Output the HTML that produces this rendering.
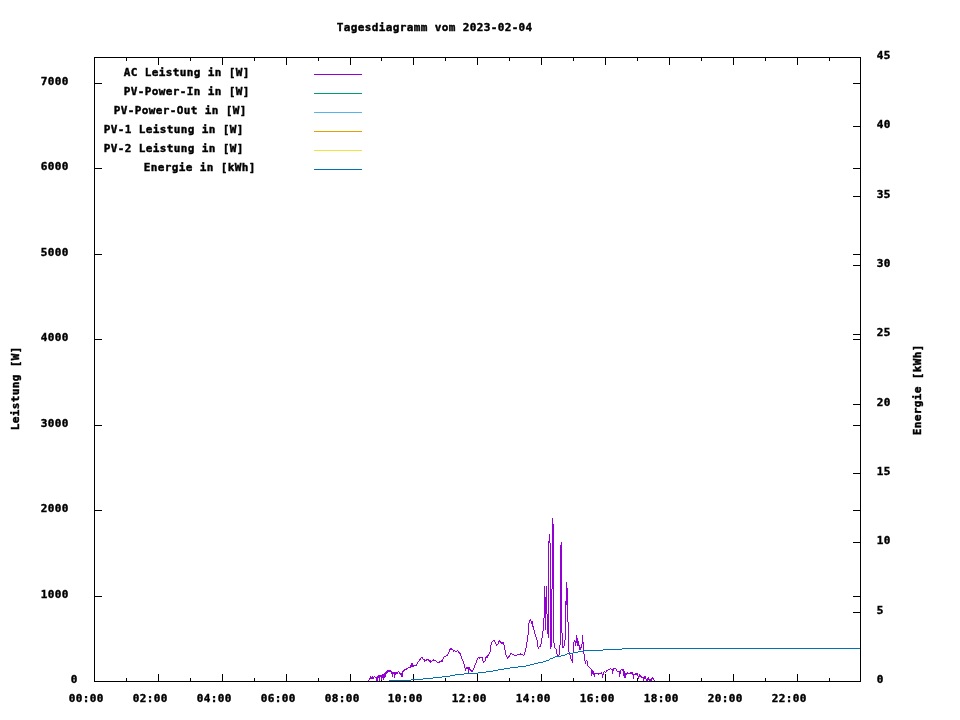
<!DOCTYPE html>
<html lang="de"><head><meta charset="utf-8"><title>Tagesdiagramm vom 2023-02-04</title>
<style>
html,body{margin:0;padding:0;background:#fff;}
body{width:960px;height:720px;overflow:hidden;}
svg{display:block;position:absolute;left:0;top:0;}
text{font-family:"DejaVu Sans Mono", "Liberation Mono", monospace;font-weight:bold;font-size:11px;fill:#000;stroke:#000;stroke-width:0.42px;white-space:pre;letter-spacing:0.375px;}
.ax{stroke:#000;stroke-width:1;fill:none;shape-rendering:crispEdges;}
.ln{stroke-width:1;fill:none;shape-rendering:crispEdges;stroke-linejoin:miter;stroke-linecap:butt;}
</style></head><body>
<svg width="960" height="720" viewBox="0 0 960 720">
<rect x="0" y="0" width="960" height="720" fill="#fff"/>
<g id="border">
<line class="ax" x1="94" y1="57.5" x2="861" y2="57.5"/>
<line class="ax" x1="94" y1="681.5" x2="861" y2="681.5"/>
<line class="ax" x1="94.5" y1="57" x2="94.5" y2="682"/>
<line class="ax" x1="860.5" y1="57" x2="860.5" y2="682"/>
</g>
<g id="xtics">
<line class="ax" x1="126.5" y1="678" x2="126.5" y2="682"/>
<line class="ax" x1="126.5" y1="57" x2="126.5" y2="61"/>
<line class="ax" x1="158.5" y1="674" x2="158.5" y2="682"/>
<line class="ax" x1="158.5" y1="57" x2="158.5" y2="65"/>
<line class="ax" x1="190.5" y1="678" x2="190.5" y2="682"/>
<line class="ax" x1="190.5" y1="57" x2="190.5" y2="61"/>
<line class="ax" x1="222.5" y1="674" x2="222.5" y2="682"/>
<line class="ax" x1="222.5" y1="57" x2="222.5" y2="65"/>
<line class="ax" x1="254.5" y1="678" x2="254.5" y2="682"/>
<line class="ax" x1="254.5" y1="57" x2="254.5" y2="61"/>
<line class="ax" x1="286.5" y1="674" x2="286.5" y2="682"/>
<line class="ax" x1="286.5" y1="57" x2="286.5" y2="65"/>
<line class="ax" x1="318.5" y1="678" x2="318.5" y2="682"/>
<line class="ax" x1="318.5" y1="57" x2="318.5" y2="61"/>
<line class="ax" x1="350.5" y1="674" x2="350.5" y2="682"/>
<line class="ax" x1="350.5" y1="57" x2="350.5" y2="65"/>
<line class="ax" x1="381.5" y1="678" x2="381.5" y2="682"/>
<line class="ax" x1="381.5" y1="57" x2="381.5" y2="61"/>
<line class="ax" x1="413.5" y1="674" x2="413.5" y2="682"/>
<line class="ax" x1="413.5" y1="57" x2="413.5" y2="65"/>
<line class="ax" x1="445.5" y1="678" x2="445.5" y2="682"/>
<line class="ax" x1="445.5" y1="57" x2="445.5" y2="61"/>
<line class="ax" x1="477.5" y1="674" x2="477.5" y2="682"/>
<line class="ax" x1="477.5" y1="57" x2="477.5" y2="65"/>
<line class="ax" x1="509.5" y1="678" x2="509.5" y2="682"/>
<line class="ax" x1="509.5" y1="57" x2="509.5" y2="61"/>
<line class="ax" x1="541.5" y1="674" x2="541.5" y2="682"/>
<line class="ax" x1="541.5" y1="57" x2="541.5" y2="65"/>
<line class="ax" x1="573.5" y1="678" x2="573.5" y2="682"/>
<line class="ax" x1="573.5" y1="57" x2="573.5" y2="61"/>
<line class="ax" x1="605.5" y1="674" x2="605.5" y2="682"/>
<line class="ax" x1="605.5" y1="57" x2="605.5" y2="65"/>
<line class="ax" x1="637.5" y1="678" x2="637.5" y2="682"/>
<line class="ax" x1="637.5" y1="57" x2="637.5" y2="61"/>
<line class="ax" x1="669.5" y1="674" x2="669.5" y2="682"/>
<line class="ax" x1="669.5" y1="57" x2="669.5" y2="65"/>
<line class="ax" x1="701.5" y1="678" x2="701.5" y2="682"/>
<line class="ax" x1="701.5" y1="57" x2="701.5" y2="61"/>
<line class="ax" x1="733.5" y1="674" x2="733.5" y2="682"/>
<line class="ax" x1="733.5" y1="57" x2="733.5" y2="65"/>
<line class="ax" x1="765.5" y1="678" x2="765.5" y2="682"/>
<line class="ax" x1="765.5" y1="57" x2="765.5" y2="61"/>
<line class="ax" x1="797.5" y1="674" x2="797.5" y2="682"/>
<line class="ax" x1="797.5" y1="57" x2="797.5" y2="65"/>
<line class="ax" x1="829.5" y1="678" x2="829.5" y2="682"/>
<line class="ax" x1="829.5" y1="57" x2="829.5" y2="61"/>
</g>
<g id="xlabels">
<text x="68.7" y="702">00:00</text>
<text x="132.7" y="702">02:00</text>
<text x="196.7" y="702">04:00</text>
<text x="260.7" y="702">06:00</text>
<text x="324.7" y="702">08:00</text>
<text x="387.7" y="702">10:00</text>
<text x="451.7" y="702">12:00</text>
<text x="515.7" y="702">14:00</text>
<text x="579.7" y="702">16:00</text>
<text x="643.7" y="702">18:00</text>
<text x="707.7" y="702">20:00</text>
<text x="771.7" y="702">22:00</text>
</g>
<g id="ytics">
<text x="70.7" y="683">0</text>
<line class="ax" x1="94" y1="596.5" x2="102" y2="596.5"/>
<line class="ax" x1="853" y1="596.5" x2="861" y2="596.5"/>
<text x="40.7" y="598">1000</text>
<line class="ax" x1="94" y1="510.5" x2="102" y2="510.5"/>
<line class="ax" x1="853" y1="510.5" x2="861" y2="510.5"/>
<text x="40.7" y="512">2000</text>
<line class="ax" x1="94" y1="425.5" x2="102" y2="425.5"/>
<line class="ax" x1="853" y1="425.5" x2="861" y2="425.5"/>
<text x="40.7" y="427">3000</text>
<line class="ax" x1="94" y1="339.5" x2="102" y2="339.5"/>
<line class="ax" x1="853" y1="339.5" x2="861" y2="339.5"/>
<text x="40.7" y="341">4000</text>
<line class="ax" x1="94" y1="254.5" x2="102" y2="254.5"/>
<line class="ax" x1="853" y1="254.5" x2="861" y2="254.5"/>
<text x="40.7" y="256">5000</text>
<line class="ax" x1="94" y1="168.5" x2="102" y2="168.5"/>
<line class="ax" x1="853" y1="168.5" x2="861" y2="168.5"/>
<text x="40.7" y="170">6000</text>
<line class="ax" x1="94" y1="83.5" x2="102" y2="83.5"/>
<line class="ax" x1="853" y1="83.5" x2="861" y2="83.5"/>
<text x="40.7" y="85">7000</text>
</g>
<g id="y2tics">
<text x="876.7" y="683">0</text>
<line class="ax" x1="853" y1="612.5" x2="861" y2="612.5"/>
<text x="876.7" y="614">5</text>
<line class="ax" x1="853" y1="542.5" x2="861" y2="542.5"/>
<text x="876.7" y="544">10</text>
<line class="ax" x1="853" y1="473.5" x2="861" y2="473.5"/>
<text x="876.7" y="475">15</text>
<line class="ax" x1="853" y1="404.5" x2="861" y2="404.5"/>
<text x="876.7" y="406">20</text>
<line class="ax" x1="853" y1="334.5" x2="861" y2="334.5"/>
<text x="876.7" y="336">25</text>
<line class="ax" x1="853" y1="265.5" x2="861" y2="265.5"/>
<text x="876.7" y="267">30</text>
<line class="ax" x1="853" y1="196.5" x2="861" y2="196.5"/>
<text x="876.7" y="198">35</text>
<line class="ax" x1="853" y1="126.5" x2="861" y2="126.5"/>
<text x="876.7" y="128">40</text>
<text x="876.7" y="59">45</text>
</g>
<text x="336.7" y="31">Tagesdiagramm vom 2023-02-04</text>
<text transform="translate(19,430.3) rotate(-90)" x="0" y="0">Leistung [W]</text>
<text transform="translate(921,435.3) rotate(-90)" x="0" y="0">Energie [kWh]</text>
<g id="legend">
<text x="123.7" y="76">AC Leistung in [W]</text>
<line class="ln" x1="314" y1="74.5" x2="362" y2="74.5" stroke="#9400d3"/>
<text x="123.7" y="95">PV-Power-In in [W]</text>
<line class="ln" x1="314" y1="93.5" x2="362" y2="93.5" stroke="#009e73"/>
<text x="113.7" y="114">PV-Power-Out in [W]</text>
<line class="ln" x1="314" y1="112.5" x2="362" y2="112.5" stroke="#56b4e9"/>
<text x="103.7" y="133">PV-1 Leistung in [W]</text>
<line class="ln" x1="314" y1="131.5" x2="362" y2="131.5" stroke="#e69f00"/>
<text x="103.7" y="152">PV-2 Leistung in [W]</text>
<line class="ln" x1="314" y1="150.5" x2="362" y2="150.5" stroke="#f0e442"/>
<text x="143.7" y="171">Energie in [kWh]</text>
<line class="ln" x1="314" y1="169.5" x2="362" y2="169.5" stroke="#0072b2"/>
</g>
<path id="ac" class="ln" stroke="#9400d3" d="M368.5 680v1M369.5 678v2M370.5 676v3M371.5 677v2M372.5 676v3M373.5 677v2M374.5 676v1M375.5 677v1M376.5 677v4M377.5 676v5M378.5 675v3M379.5 675v6M380.5 675v2M381.5 675v5M382.5 674v4M383.5 674v6M384.5 673v5M385.5 672v5M386.5 671v3M387.5 670v3M388.5 670v2M389.5 670v2M390.5 670v2M391.5 671v3M392.5 672v5M393.5 672v2M394.5 672v6M395.5 672v3M396.5 672v2M397.5 672v2M398.5 671v1M399.5 672v2M400.5 673v2M401.5 673v4M402.5 671v6M403.5 670v2M404.5 669v2M405.5 669v1M406.5 668v2M407.5 668v1M408.5 667v1M409.5 667v1M410.5 665v3M411.5 663v4M412.5 663v4M413.5 665v2M414.5 665v1M415.5 665v1M416.5 664v2M417.5 662v2M418.5 661v1M419.5 659v2M420.5 658v2M421.5 657v1M422.5 657v2M423.5 659v1M424.5 659v3M425.5 660v1M426.5 659v2M427.5 659v1M428.5 659v2M429.5 660v2M430.5 660v3M431.5 661v1M432.5 660v1M433.5 659v2M434.5 660v1M435.5 660v1M436.5 661v1M437.5 662v1M438.5 662v1M439.5 661v2M440.5 661v1M441.5 660v2M442.5 659v3M443.5 657v2M444.5 656v1M445.5 656v1M446.5 655v1M447.5 654v2M448.5 652v2M449.5 649v3M450.5 648v2M451.5 648v2M452.5 649v1M453.5 650v2M454.5 650v1M455.5 651v1M456.5 651v1M457.5 650v1M458.5 651v2M459.5 652v2M460.5 653v3M461.5 656v3M462.5 659v2M463.5 661v3M464.5 664v4M465.5 668v3M466.5 667v2M467.5 667v2M468.5 667v6M469.5 667v3M470.5 669v2M471.5 670v2M472.5 670v2M473.5 668v2M474.5 665v3M475.5 663v2M476.5 660v3M477.5 658v2M478.5 657v1M479.5 657v2M480.5 657v1M481.5 657v1M482.5 657v4M483.5 661v2M484.5 661v1M485.5 657v4M486.5 656v2M487.5 655v3M488.5 654v2M489.5 652v2M490.5 645v7M491.5 642v3M492.5 641v1M493.5 640v1M494.5 640v2M495.5 642v2M496.5 644v2M497.5 644v1M498.5 641v3M499.5 640v2M500.5 641v2M501.5 642v2M502.5 642v2M503.5 642v3M504.5 645v5M505.5 650v5M506.5 655v2M507.5 657v2M508.5 656v2M509.5 655v2M510.5 653v2M511.5 653v1M512.5 654v1M513.5 654v1M514.5 655v1M515.5 655v1M516.5 655v1M517.5 654v1M518.5 654v1M519.5 654v1M520.5 653v2M521.5 654v1M522.5 654v1M523.5 655v1M524.5 652v3M525.5 648v4M526.5 642v6M527.5 635v7M528.5 623v12M529.5 620v3M530.5 619v2M531.5 621v3M532.5 621v6M533.5 626v4M534.5 630v4M535.5 634v3M536.5 637v3M537.5 640v7M538.5 647v2M539.5 646v1M540.5 644v3M541.5 638v6M542.5 631v7M543.5 618v13M544.5 586v32M545.5 597v33M546.5 586v28M547.5 614v20M548.5 541v97M549.5 534v9M550.5 543v106M551.5 589v58M552.5 518v71M553.5 524v119M554.5 643v5M555.5 648v1M556.5 649v5M557.5 654v2M558.5 655v1M559.5 645v10M560.5 545v100M561.5 542v91M562.5 633v15M563.5 646v2M564.5 640v6M565.5 601v39M566.5 582v23M567.5 588v34M568.5 622v30M569.5 652v3M570.5 655v4M571.5 659v2M572.5 653v10M573.5 642v11M574.5 640v2M575.5 641v5M576.5 635v8M577.5 638v8M578.5 641v5M579.5 645v5M580.5 647v3M581.5 644v4M582.5 635v9M583.5 642v12M584.5 654v7M585.5 661v3M586.5 660v1M587.5 661v5M588.5 666v1M589.5 667v1M590.5 668v1M591.5 669v7M592.5 670v4M593.5 671v4M594.5 673v4M595.5 673v1M596.5 673v1M597.5 673v1M598.5 673v2M599.5 673v1M600.5 673v1M601.5 672v2M602.5 674v4M603.5 672v3M604.5 671v1M605.5 672v1M606.5 670v2M607.5 670v1M608.5 669v1M609.5 669v1M610.5 668v1M611.5 669v1M612.5 669v5M613.5 668v3M614.5 668v1M615.5 668v1M616.5 669v2M617.5 671v1M618.5 671v1M619.5 671v6M620.5 670v4M621.5 669v1M622.5 669v2M623.5 669v7M624.5 671v7M625.5 673v5M626.5 673v2M627.5 672v2M628.5 673v1M629.5 673v1M630.5 672v2M631.5 672v2M632.5 672v3M633.5 674v5M634.5 674v1M635.5 673v2M636.5 673v2M637.5 673v3M638.5 676v3M639.5 674v3M640.5 675v2M641.5 676v2M642.5 677v1M643.5 677v4M644.5 676v3M645.5 676v3M646.5 679v2M647.5 678v3M648.5 677v3M649.5 679v2M650.5 679v2M651.5 678v3M652.5 677v2M653.5 678v2M654.5 680v1"/>
<path id="energy" class="ln" stroke="#0072b2" d="M389 680.5h22M411 679.5h12M423 678.5h10M433 677.5h9M442 676.5h8M450 675.5h5M455 674.5h9M464 673.5h14M478 672.5h8M486 671.5h7M493 670.5h5M498 669.5h6M504 668.5h6M510 667.5h8M518 666.5h8M526 665.5h4M530 664.5h4M534 663.5h4M538 662.5h5M543 661.5h3M546 660.5h3M549 659.5h1M550 658.5h3M553 657.5h2M555 656.5h6M561 655.5h4M565 654.5h2M567 653.5h6M573 652.5h5M578 651.5h6M584 650.5h19M603 649.5h19M622 648.5h238"/>
</svg>
</body></html>
